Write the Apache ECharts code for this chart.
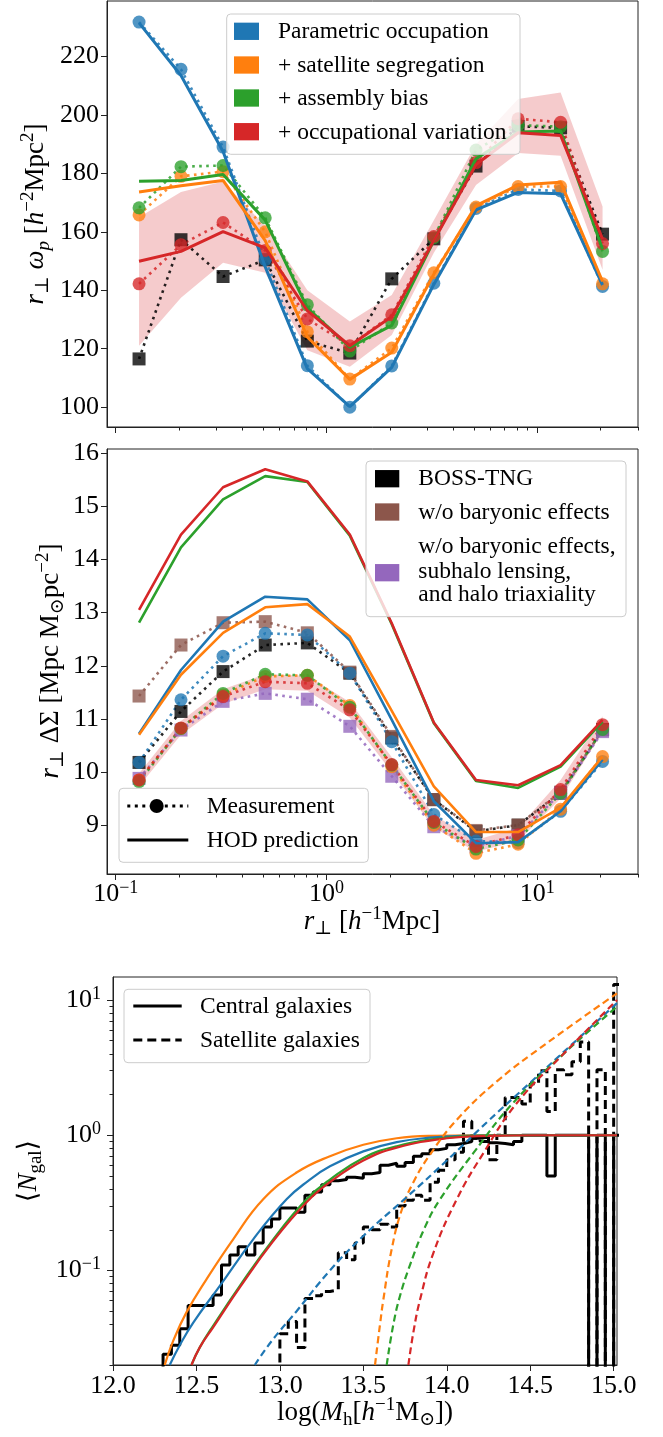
<!DOCTYPE html>
<html><head><meta charset="utf-8">
<script src="https://cdn.jsdelivr.net/npm/echarts@6.0.0/dist/echarts.min.js"></script>
<style>html,body{margin:0;padding:0;background:#fff;}#chart{width:663px;height:1437px;}</style>
</head><body><div id="chart"></div>
<script>
// ================= DATA =================
// projected radius bins [h^-1 Mpc]
const rPerp = [0.129, 0.204, 0.323, 0.512, 0.811, 1.29, 2.04, 3.23, 5.12, 8.11, 12.9, 20.4];

// --- top panel: r_perp * w_p ---
const wpBOSS        = [116.5, 157.3, 144.7, 150.4, 122.6, 118.5, 143.9, 157.6, 182.5, 196.1, 195.6, 159.2];
const wpParamMeas   = [231.8, 215.6, 189.0, 150.5, 114.2, 100.0, 114.1, 142.4, 168.0, 174.5, 174.0, 141.3];
const wpParamHod    = [231.5, 213.5, 187.5, 148.0, 113.2, 100.2, 113.6, 142.0, 167.5, 173.5, 173.0, 141.8];
const wpSatSegMeas  = [165.8, 179.0, 180.6, 160.0, 125.8, 109.6, 120.2, 146.0, 168.5, 175.5, 175.5, 142.2];
const wpSatSegHod   = [173.6, 175.8, 177.6, 157.0, 124.0, 109.5, 118.8, 145.5, 169.0, 176.0, 177.0, 143.0];
const wpAsmMeas     = [168.2, 182.3, 182.7, 164.8, 135.0, 119.2, 128.8, 158.0, 188.0, 196.5, 196.0, 153.3];
const wpAsmHod      = [177.3, 177.6, 179.6, 164.0, 134.0, 120.5, 128.0, 157.0, 185.0, 194.2, 194.5, 154.0];
const wpOccMeas     = [142.2, 155.6, 163.2, 153.6, 130.2, 121.0, 131.6, 158.4, 183.7, 198.7, 197.5, 156.0];
const wpOccHod      = [149.9, 153.3, 160.1, 154.5, 133.0, 121.0, 131.0, 157.0, 183.0, 193.9, 193.0, 157.5];
const wpOccLo       = [121.0, 137.4, 149.4, 146.0, 119.5, 113.8, 124.7, 152.8, 176.0, 187.0, 186.0, 147.0];
const wpOccHi       = [165.0, 173.6, 177.2, 162.0, 140.0, 129.3, 138.4, 164.0, 190.0, 205.5, 207.7, 168.7];

// --- middle panel: r_perp * DeltaSigma ---
const dsBOSS        = [10.18, 11.14, 11.89, 12.39, 12.43, 11.86, 10.64, 9.48, 8.88, 9.00, 9.60, 10.80];
const dsNoBaryon    = [11.43, 12.39, 12.81, 12.83, 12.62, 11.88, 10.67, 9.48, 8.90, 9.00, 9.62, 10.79];
const dsNoBarySubTri= [9.88, 10.79, 11.33, 11.48, 11.37, 10.86, 9.92, 8.97, 8.60, 8.80, 9.60, 10.76];
const dsParamMeas   = [10.18, 11.36, 12.18, 12.61, 12.58, 11.86, 10.57, 9.20, 8.70, 8.67, 9.26, 10.20];
const dsSatSegMeas  = [9.85, 10.82, 11.45, 11.80, 11.82, 11.25, 10.10, 9.00, 8.47, 8.64, 9.30, 10.29];
const dsAsmMeas     = [9.82, 10.82, 11.48, 11.84, 11.82, 11.22, 10.13, 9.05, 8.55, 8.72, 9.60, 10.80];
const dsOccMeas     = [9.85, 10.83, 11.42, 11.70, 11.67, 11.17, 10.14, 9.07, 8.60, 8.82, 9.67, 10.89];
const dsOccLo       = [9.73, 10.70, 11.28, 11.56, 11.53, 11.02, 10.00, 8.95, 8.50, 8.70, 9.50, 10.75];
const dsOccHi       = [9.97, 10.96, 11.56, 11.84, 11.81, 11.32, 10.28, 9.19, 8.72, 8.95, 9.85, 11.05];
const dsParamHod    = [10.72, 11.92, 12.83, 13.30, 13.25, 12.48, 10.98, 9.45, 8.66, 8.68, 9.26, 10.23];
const dsSatSegHod   = [10.70, 11.83, 12.62, 13.10, 13.16, 12.55, 11.15, 9.73, 8.87, 8.87, 9.33, 10.29];
const dsAsmHod      = [12.81, 14.23, 15.13, 15.57, 15.46, 14.45, 12.78, 10.92, 9.83, 9.70, 10.10, 10.95];
const dsOccHod      = [13.05, 14.47, 15.36, 15.70, 15.47, 14.47, 12.80, 10.93, 9.85, 9.75, 10.13, 10.98];

// --- bottom panel: <N_gal>(log M_h) HOD curves [logM, N] ---
const cenParam  = [[12.34,0.02],[12.40,0.028],[12.48,0.041],[12.64,0.077],[12.84,0.17],[13.04,0.336],[13.17,0.46],[13.30,0.59],[13.50,0.76],[13.70,0.89],[13.90,0.96],[14.10,0.99],[14.40,1.0],[15.02,1.0]];
const cenSatSeg = [[12.31,0.02],[12.36,0.03],[12.44,0.049],[12.56,0.086],[12.72,0.17],[12.90,0.336],[13.10,0.53],[13.30,0.70],[13.50,0.85],[13.70,0.95],[13.90,0.99],[14.20,1.0],[15.02,1.0]];
const cenAsm    = [[12.47,0.02],[12.52,0.027],[12.60,0.039],[12.76,0.077],[12.96,0.17],[13.16,0.336],[13.30,0.47],[13.50,0.68],[13.70,0.83],[14.00,0.96],[14.25,0.995],[14.50,1.0],[15.02,1.0]];
const cenOcc    = [[12.47,0.02],[12.52,0.027],[12.60,0.038],[12.76,0.075],[12.96,0.165],[13.16,0.32],[13.30,0.45],[13.50,0.65],[13.70,0.81],[14.00,0.95],[14.25,0.99],[14.55,1.0],[15.02,1.0]];
const satParam  = [[12.85,0.02],[12.95,0.03],[13.10,0.05],[13.30,0.10],[13.50,0.18],[13.75,0.34],[14.00,0.65],[14.25,1.28],[14.50,2.45],[14.75,4.7],[15.02,9.5]];
const satSatSeg = [[13.57,0.02],[13.60,0.04],[13.62,0.061],[13.67,0.144],[13.73,0.28],[13.80,0.45],[13.90,0.72],[14.06,1.3],[14.30,2.5],[14.60,4.8],[15.02,11.2]];
const satAsm    = [[13.64,0.02],[13.68,0.04],[13.72,0.065],[13.78,0.11],[13.87,0.21],[13.96,0.336],[14.16,0.74],[14.40,1.75],[14.70,4.0],[15.02,8.95]];
const satOcc    = [[13.77,0.02],[13.80,0.035],[13.84,0.061],[13.92,0.135],[14.06,0.336],[14.22,0.74],[14.42,1.73],[14.70,4.0],[15.02,10.0]];

// --- bottom panel: BOSS-TNG measured occupation histograms (bins of 0.05 dex) ---
const histBinWidth = 0.05;
const cenHistStart = 12.30;
const cenHist = [0.024,0.028,0.037,0.055,0.055,0.055,0.066,0.11,0.13,0.15,0.13,0.16,0.21,0.24,0.29,0.29,0.27,0.36,0.38,0.43,0.46,0.47,0.49,0.48,0.52,0.53,0.60,0.62,0.59,0.63,0.70,0.73,0.78,0.80,0.85,0.87,0.90,0.95,0.97,0.88,0.87,0.85,0.90,1.0,1.0,1.0,0.5,1.0,1.0,1.0,1.0,0,1.0,0,1.0];
const satHistStart = 13.00;
const satHist = [0.034,0.042,0.027,0.062,0.065,0.07,0.072,0.135,0.12,0.16,0.21,0.20,0.22,0.21,0.30,0.33,0.36,0.33,0.45,0.55,0.66,0.75,1.27,0.95,0.9,0.66,1.0,1.9,1.9,1.7,2.4,3.0,1.5,3.05,2.8,3.5,4.9,0,3.05,0,13.0];

// --- tick values ---
const wpTicks = [100,120,140,160,180,200,220];
const dsTicks = [9,10,11,12,13,14,15,16];
const rMajor = [0.1,1,10];
const rMinor = [0.2,0.3,0.4,0.5,0.6,0.7,0.8,0.9,2,3,4,5,6,7,8,9,20,30];
const mTicks = [12.0,12.5,13.0,13.5,14.0,14.5,15.0];
const nMajor = [0.1,1,10];
const nMinor = [0.02,0.03,0.04,0.05,0.06,0.07,0.08,0.09,0.2,0.3,0.4,0.5,0.6,0.7,0.8,0.9,2,3,4,5,6,7,8,9];

// ================= STYLE / BUILD =================
const FONT = "'Liberation Serif','DejaVu Serif',serif";
const COL = {blue:'#1f77b4', orange:'#ff7f0e', green:'#2ca02c', red:'#d62728', brown:'#8c564b', purple:'#9467bd', black:'#000000'};
const BAND = 'rgba(214,39,40,0.24)';
const AXC = '#222';

const chart = echarts.init(document.getElementById('chart'), null, {renderer:'canvas', width:663, height:1437});

const powRich = {
  b: {fontFamily: FONT, fontSize: 26, lineHeight: 30, color: '#000'},
  s: {fontFamily: FONT, fontSize: 18, lineHeight: 18, verticalAlign: 'top', color: '#000'}
};
function powLabel(v) {
  const e = Math.round(Math.log10(v));
  return '{b|10}{s|' + (e < 0 ? '\u2212' + (-e) : String(e)) + '}';
}

function xLog(grid, major, showLabel, minor) {
  return {
    type: 'log', logBase: 10, gridIndex: grid, min: 0.0909, max: 30.05, position: 'bottom',
    axisLine: {show: !minor, onZero: false, lineStyle: {color: AXC, width: 1}},
    axisTick: {show: true, customValues: minor ? rMinor : rMajor, length: minor ? 3.5 : 6, lineStyle: {color: AXC, width: 1}},
    axisLabel: {show: !minor && showLabel, customValues: rMajor, formatter: powLabel, rich: powRich, margin: 5},
    splitLine: {show: false}, minorTick: {show: false}
  };
}

const xAxes = [
  xLog(0, true, false, false),
  xLog(0, true, false, true),
  xLog(1, true, true, false),
  xLog(1, true, true, true),
  {
    type: 'value', gridIndex: 2, min: 12.0, max: 15.02, position: 'bottom',
    axisLine: {show: true, onZero: false, lineStyle: {color: AXC, width: 1}},
    axisTick: {show: true, customValues: mTicks, length: 6, lineStyle: {color: AXC}},
    axisLabel: {customValues: mTicks, formatter: v => v.toFixed(1), fontFamily: FONT, fontSize: 26, color: '#000', margin: 8},
    splitLine: {show: false}
  }
];

const yAxes = [
  {
    type: 'value', gridIndex: 0, min: 93.2, max: 239.0, position: 'left',
    axisLine: {show: true, onZero: false, lineStyle: {color: AXC}},
    axisTick: {show: true, customValues: wpTicks, length: 6, lineStyle: {color: AXC}},
    axisLabel: {customValues: wpTicks, fontFamily: FONT, fontSize: 26, color: '#000', margin: 8},
    splitLine: {show: false}
  },
  {
    type: 'value', gridIndex: 1, min: 8.08, max: 16.08, position: 'left',
    axisLine: {show: true, onZero: false, lineStyle: {color: AXC}},
    axisTick: {show: true, customValues: dsTicks, length: 6, lineStyle: {color: AXC}},
    axisLabel: {customValues: dsTicks, fontFamily: FONT, fontSize: 26, color: '#000', margin: 8},
    splitLine: {show: false}
  },
  {
    type: 'log', logBase: 10, gridIndex: 2, min: 0.02, max: 14.8, position: 'left',
    axisLine: {show: true, onZero: false, lineStyle: {color: AXC}},
    axisTick: {show: true, customValues: nMajor, length: 6, lineStyle: {color: AXC}},
    axisLabel: {customValues: nMajor, formatter: powLabel, rich: powRich, margin: 12},
    splitLine: {show: false}, minorTick: {show: false}
  },
  {
    type: 'log', logBase: 10, gridIndex: 2, min: 0.02, max: 14.8, position: 'left',
    axisLine: {show: false, onZero: false},
    axisTick: {show: true, customValues: nMinor, length: 3.5, lineStyle: {color: AXC}},
    axisLabel: {show: false},
    splitLine: {show: false}, minorTick: {show: false}
  }
];

function pts(xs, ys) { return xs.map((x, i) => [x, ys[i]]); }

function measSeries(xi, yi, ys, color, symbol, z) {
  return {
    type: 'line', xAxisIndex: xi, yAxisIndex: yi, data: pts(rPerp, ys),
    symbol: symbol, symbolSize: 13, showAllSymbol: true, silent: true, z: z,
    itemStyle: {color: color, opacity: 0.78},
    lineStyle: {color: color, width: 2.6, type: [2.6, 4.4], opacity: 0.85, cap: 'butt'}
  };
}
function hodSeries(xi, yi, ys, color, width, z) {
  return {
    type: 'line', xAxisIndex: xi, yAxisIndex: yi, data: pts(rPerp, ys),
    symbol: 'none', silent: true, z: z, lineStyle: {color: color, width: width}
  };
}
function bandSeries(xi, yi, lo, hi) {
  return {
    type: 'custom', xAxisIndex: xi, yAxisIndex: yi, clip: true, silent: true, z: 1,
    data: [[rPerp[0], lo[0]]],
    renderItem: function (params, api) {
      const p = [];
      for (let i = 0; i < rPerp.length; i++) p.push(api.coord([rPerp[i], hi[i]]));
      for (let i = rPerp.length - 1; i >= 0; i--) p.push(api.coord([rPerp[i], lo[i]]));
      return {type: 'polygon', shape: {points: p}, style: {fill: BAND}};
    }
  };
}
function curveSeries(arr, color, dashed) {
  return {
    type: 'line', xAxisIndex: 4, yAxisIndex: 2, data: arr, symbol: 'none', silent: true,
    smooth: 0.45, z: 5,
    lineStyle: {color: color, width: 2.2, type: dashed ? [7, 4] : 'solid'}
  };
}
const EMPTY = 1e-4; // empty bin drawn at log-axis floor
function histSeries(start, vals, dashed) {
  const d = [[start - histBinWidth, EMPTY]];
  vals.forEach((v, i) => d.push([start + i * histBinWidth, v > 0 ? v : EMPTY]));
  d.push([start + vals.length * histBinWidth, EMPTY]);
  return {
    type: 'line', xAxisIndex: 4, yAxisIndex: 2, data: d, step: 'end', symbol: 'none', silent: true, z: 3,
    lineStyle: {color: '#000', width: 3, type: dashed ? [9, 5] : 'solid'}
  };
}

const series = [
  // top panel
  bandSeries(0, 0, wpOccLo, wpOccHi),
  measSeries(0, 0, wpBOSS, COL.black, 'rect', 2),
  measSeries(0, 0, wpParamMeas, COL.blue, 'circle', 2),
  measSeries(0, 0, wpSatSegMeas, COL.orange, 'circle', 2),
  measSeries(0, 0, wpAsmMeas, COL.green, 'circle', 2),
  measSeries(0, 0, wpOccMeas, COL.red, 'circle', 2),
  hodSeries(0, 0, wpParamHod, COL.blue, 3, 3),
  hodSeries(0, 0, wpSatSegHod, COL.orange, 3, 3),
  hodSeries(0, 0, wpAsmHod, COL.green, 3, 3),
  hodSeries(0, 0, wpOccHod, COL.red, 3, 3),
  // middle panel
  bandSeries(2, 1, dsOccLo, dsOccHi),
  measSeries(2, 1, dsBOSS, COL.black, 'rect', 2),
  measSeries(2, 1, dsNoBaryon, COL.brown, 'rect', 2),
  measSeries(2, 1, dsNoBarySubTri, COL.purple, 'rect', 2),
  measSeries(2, 1, dsParamMeas, COL.blue, 'circle', 2),
  measSeries(2, 1, dsSatSegMeas, COL.orange, 'circle', 2),
  measSeries(2, 1, dsAsmMeas, COL.green, 'circle', 2),
  measSeries(2, 1, dsOccMeas, COL.red, 'circle', 2),
  hodSeries(2, 1, dsParamHod, COL.blue, 2.6, 3),
  hodSeries(2, 1, dsSatSegHod, COL.orange, 2.6, 3),
  hodSeries(2, 1, dsAsmHod, COL.green, 2.6, 3),
  hodSeries(2, 1, dsOccHod, COL.red, 2.6, 3),
  // bottom panel
  histSeries(cenHistStart, cenHist, false),
  histSeries(satHistStart, satHist, true),
  curveSeries(cenSatSeg, COL.orange, false),
  curveSeries(cenParam, COL.blue, false),
  curveSeries(cenAsm, COL.green, false),
  curveSeries(cenOcc, COL.red, false),
  curveSeries(satSatSeg, COL.orange, true),
  curveSeries(satParam, COL.blue, true),
  curveSeries(satAsm, COL.green, true),
  curveSeries(satOcc, COL.red, true)
];

// ---------- titles & legends (graphic) ----------
const TR = {
  n: {fontFamily: FONT, fontSize: 27, lineHeight: 34, color: '#000'},
  i: {fontFamily: FONT, fontSize: 27, fontStyle: 'italic', lineHeight: 34, color: '#000'},
  sup: {fontFamily: FONT, fontSize: 19, lineHeight: 19, verticalAlign: 'top', color: '#000'},
  sub: {fontFamily: FONT, fontSize: 19, lineHeight: 16, verticalAlign: 'bottom', color: '#000'},
  subi: {fontFamily: FONT, fontSize: 19, fontStyle: 'italic', lineHeight: 16, verticalAlign: 'bottom', color: '#000'}
};
const G = [];
function title(x, y, text, rot) {
  G.push({type: 'text', x: x, y: y, rotation: rot ? Math.PI / 2 : 0, z: 100,
    style: {text: text, rich: TR, align: 'center', verticalAlign: 'middle', fill: '#000'}});
}
title(36, 214, '{i|r}{sub|\u22a5}{n| }{i|\u03c9}{subi|p}{n| [}{i|h}{sup|\u22122}{n|Mpc}{sup|2}{n|]}', true);
title(51, 661, '{i|r}{sub|\u22a5}{n| \u0394\u03a3 [Mpc M}{sub|\u2299}{n|pc}{sup|\u22122}{n|]}', true);
title(372, 922, '{i|r}{sub|\u22a5}{n| [}{i|h}{sup|\u22121}{n|Mpc]}', false);
title(29, 1171, '{n|\u27e8}{i|N}{sub|gal}{n|\u27e9}', true);
title(365, 1413, '{n|log(}{i|M}{sub|h}{n|[}{i|h}{sup|\u22121}{n|M}{sub|\u2299}{n|])}', false);

const LF = 23.5;
function box(x, y, w, h) {
  G.push({type: 'rect', z: 90, shape: {x: x, y: y, width: w, height: h, r: 4},
    style: {fill: 'rgba(255,255,255,0.8)', stroke: '#cccccc', lineWidth: 1}});
}
function patch(x, cy, w, h, color) {
  G.push({type: 'rect', z: 95, shape: {x: x, y: cy - h / 2, width: w, height: h}, style: {fill: color}});
}
function ltext(x, cy, t) {
  G.push({type: 'text', z: 95, x: x, y: cy,
    style: {text: t, fontFamily: FONT, fontSize: LF, fill: '#000', align: 'left', verticalAlign: 'middle'}});
}
function lline(x1, x2, y, w, dash) {
  G.push({type: 'line', z: 95, shape: {x1: x1, y1: y, x2: x2, y2: y},
    style: {stroke: '#000', lineWidth: w, lineDash: dash || null}});
}
// top legend
box(226.7, 14, 293.3, 140.3);
[['Parametric occupation', COL.blue, 31.3], ['+ satellite segregation', COL.orange, 65],
 ['+ assembly bias', COL.green, 98], ['+ occupational variation', COL.red, 131.7]].forEach(e => {
  patch(234, e[2], 25, 17.3, e[1]); ltext(278, e[2] + 1, e[0]);
});
// middle legend (right)
box(366, 461, 260, 155.7);
patch(375, 478.7, 24.3, 17.3, COL.black);
patch(375, 512, 24.3, 17.3, COL.brown);
patch(375, 572.7, 24.3, 17.3, COL.purple);
ltext(418.3, 479.3, 'BOSS-TNG');
ltext(418.3, 512.7, 'w/o baryonic effects');
ltext(418.3, 546.7, 'w/o baryonic effects,');
ltext(418.3, 571.7, 'subhalo lensing,');
ltext(418.3, 595, 'and halo triaxiality');
// middle legend (lower left)
box(119, 788.3, 249.3, 74);
lline(127.3, 188.3, 806, 3, [3, 4.5]);
G.push({type: 'circle', z: 96, shape: {cx: 156.7, cy: 806, r: 7}, style: {fill: '#000'}});
ltext(206.7, 807, 'Measurement');
lline(127.3, 188.3, 840, 3);
ltext(206.7, 841, 'HOD prediction');
// bottom legend
box(124, 989.3, 246, 73.4);
lline(133.3, 181.7, 1006, 3);
lline(133.3, 181.7, 1040, 3, [9, 5]);
ltext(200, 1007, 'Central galaxies');
ltext(200, 1041, 'Satellite galaxies');

const gridStyle = {show: true, borderColor: AXC, borderWidth: 1, backgroundColor: 'transparent', containLabel: false, outerBoundsMode: 'none'};
const option = {
  animation: false,
  backgroundColor: '#ffffff',
  grid: [
    Object.assign({left: 107, top: 1, width: 531, height: 426}, gridStyle),
    Object.assign({left: 107, top: 449, width: 531, height: 425}, gridStyle),
    Object.assign({left: 113, top: 977, width: 504, height: 388}, gridStyle)
  ],
  xAxis: xAxes,
  yAxis: yAxes,
  series: series,
  graphic: {elements: G}
};
chart.setOption(option);
</script></body></html>
